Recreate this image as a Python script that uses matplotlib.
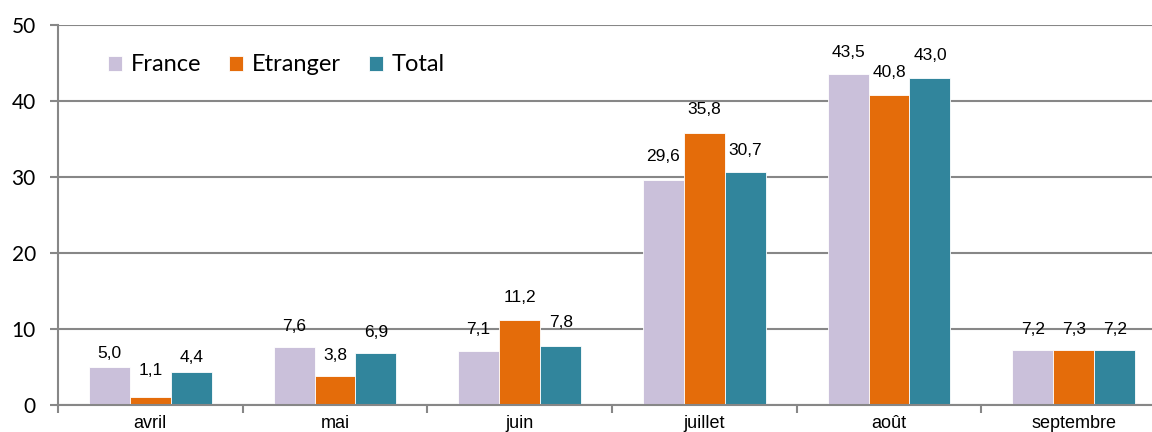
import numpy as np
import matplotlib
matplotlib.use("Agg")
import matplotlib.pyplot as plt

months = ["avril", "mai", "juin", "juillet", "août", "septembre"]
series = ["France", "Etranger", "Total"]
france = [5.0, 7.6, 7.1, 29.6, 43.5, 7.2]
etranger = [1.1, 3.8, 11.2, 35.8, 40.8, 7.3]
total = [4.4, 6.9, 7.8, 30.7, 43.0, 7.2]
colors = ["#CAC0DA", "#E46C0A", "#31859C"]

# vertical label offsets (pixels above bar top), as placed in the original
label_offsets = [
    [14, 21, 22, 24, 22, 21],
    [26, 21, 22, 23, 22, 20],
    [14, 20, 23, 21, 23, 21],
]

grid_col = "#878787"

fig = plt.figure(figsize=(11.52, 4.32), dpi=100)
ax = fig.add_axes([58 / 1152, 27 / 432, 1108 / 1152, 380 / 432])

x = np.arange(len(months))
w = 0.222
for i, (name, vals) in enumerate(zip(series, [france, etranger, total])):
    pos = x + (i - 1) * w
    ax.bar(pos, vals, width=w, color=colors[i], edgecolor="white", linewidth=0.6,
           label=name, zorder=2)
    for px, v, off in zip(pos, vals, label_offsets[i]):
        ax.annotate(f"{v:.1f}".replace(".", ","), (px, v), xytext=(0, off),
                    textcoords="offset pixels", ha="center", va="center",
                    fontsize=12.5, family="Liberation Sans", zorder=3)

ax.set_xlim(-0.5, len(months) - 0.5)
ax.set_ylim(0, 50)
ax.set_yticks(range(0, 51, 10))
ax.yaxis.grid(True, color=grid_col, linewidth=1.5, zorder=1)
ax.set_axisbelow(True)

ax.set_xticks(x)
ax.set_xticklabels(months, fontsize=13, family="Liberation Sans")
ax.set_xticks(np.arange(-0.5, len(months), 1), minor=True)
ax.tick_params(axis="x", which="major", length=0, pad=7)
ax.tick_params(axis="x", which="minor", length=6, width=1.5, color=grid_col)
ax.tick_params(axis="y", length=6, width=1.5, color=grid_col, pad=10)
for lab in ax.get_yticklabels():
    lab.set_family("Lato")
    lab.set_fontsize(15)

for s in ["top", "right"]:
    ax.spines[s].set_visible(False)
for s in ["left", "bottom"]:
    ax.spines[s].set_color(grid_col)
    ax.spines[s].set_linewidth(1.5)

ax.legend(loc="center left", bbox_to_anchor=(0.026, 0.895), ncol=3, frameon=False,
          prop={"family": "Lato", "size": 17}, handlelength=0.6, handleheight=0.6,
          handletextpad=0.35, columnspacing=1.2)

fig.savefig("out.png", dpi=100)
